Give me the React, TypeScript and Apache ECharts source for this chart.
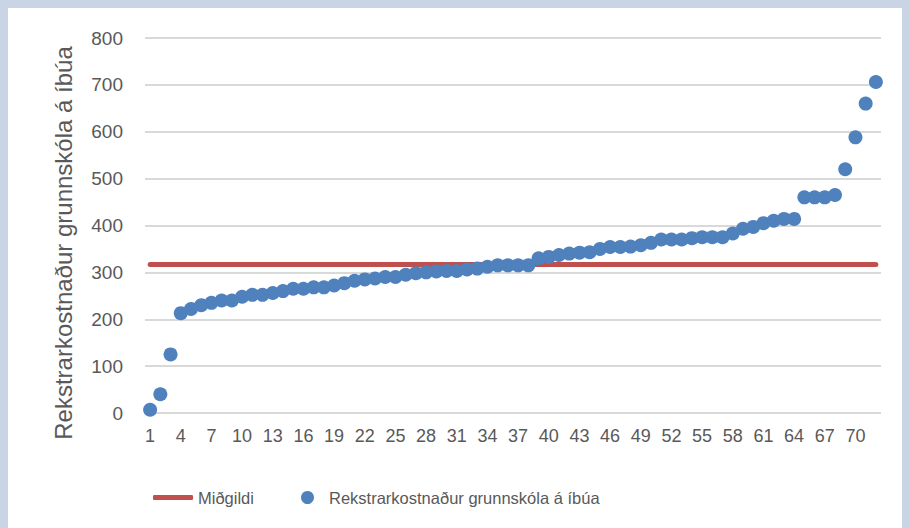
import React, { useEffect, useRef } from "react";
import * as echarts from "echarts";

const categories: string[] = Array.from({ length: 72 }, (_, i) => String(i + 1));

const costPerResident: number[] = [
  7, 40, 125, 213, 222, 230, 235, 240, 240, 248,
  252, 252, 256, 260, 265, 265, 268, 268, 272, 277,
  282, 285, 287, 290, 290, 295, 298, 300, 302, 303,
  303, 306, 308, 312, 315, 315, 315, 315, 330, 333,
  337, 340, 342, 343, 350, 354, 354, 355, 358, 363,
  370, 370, 370, 373, 375, 375, 375, 383, 393, 397,
  405, 410, 414, 414, 460, 460, 460, 465, 520, 588,
  660, 706,
];

const medianValue = 317;
const medianSeries: number[] = categories.map(() => medianValue);

const yTicks = { min: 0, max: 800, interval: 100 };
const yAxisTitle = "Rekstrarkostnaður grunnskóla á íbúa";

const FONT = "Liberation Sans";
const TEXT_COLOR = "#595959";

export default function App() {
  const ref = useRef<HTMLDivElement>(null);

  useEffect(() => {
    document.body.style.background = "#c9d5e5";
    if (!ref.current) return;
    const chart = echarts.init(ref.current, undefined, { renderer: "svg" });
    chart.setOption({
      animation: false,
      backgroundColor: "#ffffff",
      textStyle: { fontFamily: FONT },
      grid: { left: 137, right: 29, top: 30, bottom: 115 },
      graphic: [
        {
          type: "text",
          x: 55,
          y: 235,
          rotation: Math.PI / 2,
          style: {
            text: yAxisTitle,
            fill: TEXT_COLOR,
            fontSize: 24,
            fontFamily: FONT,
            textAlign: "center",
            textVerticalAlign: "middle",
          },
        },
      ],
      legend: [
        {
          data: [{ name: "Miðgildi", icon: "roundRect" }],
          left: 140,
          top: 476,
          itemWidth: 40,
          itemHeight: 5,
          textStyle: { fontFamily: FONT, fontSize: 16.5, color: TEXT_COLOR },
        },
        {
          data: [{ name: "Rekstrarkostnaður grunnskóla á íbúa", icon: "circle" }],
          left: 288,
          top: 476,
          itemWidth: 13,
          itemHeight: 13,
          textStyle: { fontFamily: FONT, fontSize: 16.5, color: TEXT_COLOR, padding: [0, 0, 0, 10] },
        },
      ],
      xAxis: {
        type: "category",
        data: categories,
        boundaryGap: true,
        axisLine: { show: false },
        axisTick: { show: false },
        axisLabel: {
          interval: 2,
          color: TEXT_COLOR,
          fontSize: 18,
          fontFamily: FONT,
          margin: 14,
        },
        splitLine: { show: false },
      },
      yAxis: {
        type: "value",
        min: yTicks.min,
        max: yTicks.max,
        interval: yTicks.interval,
        axisLine: { show: false },
        axisTick: { show: false },
        axisLabel: { color: TEXT_COLOR, fontSize: 19, fontFamily: FONT, margin: 22 },
        splitLine: { lineStyle: { color: "#d9d9d9", width: 2 } },
      },
      series: [
        {
          name: "Miðgildi",
          type: "line",
          data: medianSeries,
          showSymbol: false,
          symbol: "none",
          itemStyle: { color: "#c0504d" },
          lineStyle: { color: "#c0504d", width: 5, cap: "round" },
          z: 2,
        },
        {
          name: "Rekstrarkostnaður grunnskóla á íbúa",
          type: "scatter",
          data: costPerResident,
          symbol: "circle",
          symbolSize: 14,
          itemStyle: { color: "#4f81bd", opacity: 1 },
          z: 3,
        },
      ],
    });
    return () => chart.dispose();
  }, []);

  return <div ref={ref} style={{ width: 902, height: 520 }} />;
}
